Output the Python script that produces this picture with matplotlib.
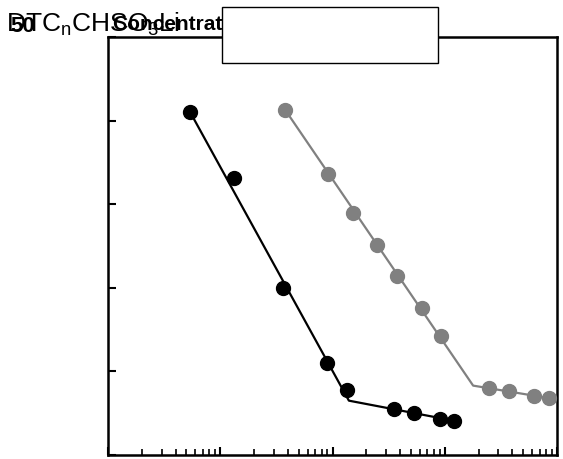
import matplotlib
matplotlib.use("Agg")
import matplotlib.pyplot as plt
from matplotlib.patches import Rectangle

plt.rcParams['font.family'] = ['Liberation Sans', 'DejaVu Sans']
plt.rcParams['mathtext.fontset'] = 'custom'
plt.rcParams['mathtext.rm'] = 'Liberation Sans'

# Data (concentration, mM ; measured value)
black_x = [0.054, 0.133, 0.362, 0.893, 1.35, 3.53, 5.32, 9.07, 12.1]
black_y = [41.0, 33.1, 20.0, 11.0, 7.8, 5.5, 5.0, 4.3, 4.1]
black_fit_x = [0.054, 1.40, 12.1]
black_fit_y = [41.0, 6.5, 4.1]

gray_x = [0.378, 0.912, 1.52, 2.49, 3.76, 6.27, 9.26, 24.8, 37.4, 62.4, 84.9]
gray_y = [41.3, 33.6, 28.9, 25.1, 21.4, 17.6, 14.2, 8.0, 7.7, 7.1, 6.8]
gray_fit_x = [0.378, 17.9, 84.9]
gray_fit_y = [41.3, 8.3, 6.8]

y_ticks = [0, 10, 20, 30, 40, 50]

fig = plt.figure(figsize=(5.63, 4.59), dpi=100)
ax = fig.add_axes([108/563, 4/459, 449/563, 418/459])

gray = '#808080'
ax.plot(black_fit_x, black_fit_y, color='black', lw=1.6, zorder=2)
ax.plot(black_x, black_y, 'o', color='black', ms=10, zorder=3)
ax.plot(gray_fit_x, gray_fit_y, color=gray, lw=1.6, zorder=2)
ax.plot(gray_x, gray_y, 'o', color=gray, ms=10, zorder=3)

ax.set_xscale('log')
ax.set_xlim(0.01, 100)
ax.set_ylim(0, 50)
ax.set_yticks(y_ticks)
ax.set_yticklabels([])
ax.set_xticklabels([], minor=False)
ax.set_xticklabels([], minor=True)
ax.tick_params(which='major', direction='in', length=6, width=1.5, top=False, right=False)
ax.tick_params(which='minor', direction='in', length=4, width=1.2)
for s in ax.spines.values():
    s.set_linewidth(1.8)

# header texts (overlapping as in the original)
fig.text(6/563, 1 - 32/459, r"DTC$_\mathrm{n}$CHSO$_\mathrm{3}$Li", fontsize=19,
         ha='left', va='baseline', zorder=5)
fig.text(10/563, 1 - 32/459, "50", fontsize=16, fontweight='bold',
         ha='left', va='baseline', zorder=5)
fig.text(112/563, 1 - 30/459, "Concentration", fontsize=15, fontweight='bold',
         ha='left', va='baseline', zorder=5)

# empty legend box
fig.patches.append(Rectangle((222/563, 1 - 63/459), 216/563, 56/459,
                             transform=fig.transFigure, facecolor='white',
                             edgecolor='black', lw=1.0, zorder=10))

fig.savefig('out.png', dpi=100)
